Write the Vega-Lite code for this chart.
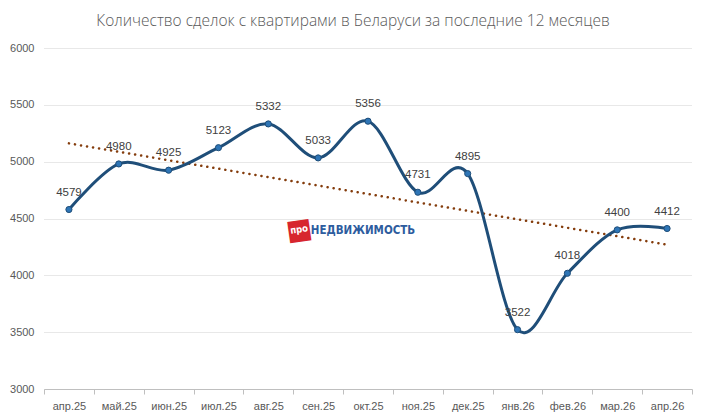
{
  "$schema": "https://vega.github.io/schema/vega-lite/v6.json",
  "width": 648,
  "height": 341,
  "autosize": {"type": "none"},
  "padding": {"left": 44, "top": 48, "right": 14, "bottom": 31},
  "background": "white",
  "title": {
    "text": "Количество сделок с квартирами в Беларуси за последние 12 месяцев",
    "font": "Open Sans",
    "fontSize": 15.5,
    "fontWeight": 300,
    "color": "#595959",
    "anchor": "middle",
    "dx": -15,
    "offset": 13
  },
  "config": {
    "view": {"stroke": null},
    "font": "Liberation Sans",
    "axis": {"labelFont": "Liberation Sans", "labelFontSize": 11, "labelColor": "#595959", "titleFont": "Liberation Sans"}
  },
  "datasets": {
    "deals": [
      {"month": "апр.25", "deals": 4579},
      {"month": "май.25", "deals": 4980},
      {"month": "июн.25", "deals": 4925},
      {"month": "июл.25", "deals": 5123},
      {"month": "авг.25", "deals": 5332},
      {"month": "сен.25", "deals": 5033},
      {"month": "окт.25", "deals": 5356},
      {"month": "ноя.25", "deals": 4731},
      {"month": "дек.25", "deals": 4895},
      {"month": "янв.26", "deals": 3522},
      {"month": "фев.26", "deals": 4018},
      {"month": "мар.26", "deals": 4400},
      {"month": "апр.26", "deals": 4412}
    ],
    "trend": [
      {"month": "апр.25", "deals": 5161},
      {"month": "апр.26", "deals": 4270}
    ],
    "logo": [
      {"month": "окт.25", "deals": 4390}
    ]
  },
  "encoding": {
    "x": {
      "field": "month", "type": "ordinal", "sort": null,
      "scale": {"type": "band", "paddingInner": 0, "paddingOuter": 0,
        "domain": ["апр.25","май.25","июн.25","июл.25","авг.25","сен.25","окт.25","ноя.25","дек.25","янв.26","фев.26","мар.26","апр.26"]},
      "axis": {"title": null, "labelAngle": 0, "tickBand": "extent", "domainColor": "#bfbfbf", "tickColor": "#bfbfbf", "tickSize": 5, "labelPadding": 6, "grid": false}
    },
    "y": {
      "field": "deals", "type": "quantitative",
      "scale": {"domain": [3000, 6000], "nice": false, "zero": false},
      "axis": {"title": null, "format": "d", "values": [3000, 3500, 4000, 4500, 5000, 5500, 6000], "domain": false, "ticks": false, "labelPadding": 10, "gridColor": "#d0d0d0", "gridDash": [1, 1]}
    }
  },
  "layer": [
    {
      "data": {"name": "logo"},
      "mark": {"type": "text", "text": "■", "fontSize": 28, "color": "#d7262e", "angle": -8, "dx": -68, "dy": -10, "font": "DejaVu Sans"}
    },
    {
      "data": {"name": "logo"},
      "mark": {"type": "text", "text": "про", "fontSize": 9.5, "fontWeight": "bold", "color": "white", "angle": -8, "dx": -68, "dy": -11, "font": "DejaVu Sans Condensed"}
    },
    {
      "data": {"name": "logo"},
      "mark": {"type": "text", "text": "НЕДВИЖИМОСТЬ", "fontSize": 11.5, "fontWeight": "bold", "color": "#2d5c9e", "dx": -5, "font": "DejaVu Sans Condensed"}
    },
    {
      "data": {"name": "trend"},
      "mark": {"type": "line", "color": "#843c0c", "strokeWidth": 2.5, "strokeDash": [0.1, 6], "strokeCap": "round"}
    },
    {
      "data": {"name": "deals"},
      "mark": {"type": "line", "interpolate": "cardinal", "color": "#1f4e79", "strokeWidth": 3}
    },
    {
      "data": {"name": "deals"},
      "mark": {"type": "point", "filled": true, "shape": "circle", "size": 38, "color": "#2e75b6", "stroke": "#1f4e79", "strokeWidth": 1, "opacity": 1}
    },
    {
      "data": {"name": "deals"},
      "mark": {"type": "text", "dy": -17, "fontSize": 11.5, "color": "#404040", "font": "Liberation Sans"},
      "encoding": {"text": {"field": "deals", "type": "quantitative", "format": "d"}}
    }
  ]
}
